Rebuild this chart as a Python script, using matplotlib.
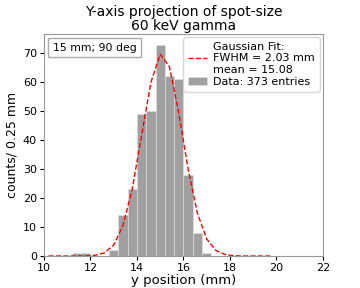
import numpy as np
import matplotlib
matplotlib.use('Agg')
import matplotlib.pyplot as plt
from matplotlib.offsetbox import AnchoredText

# histogram bins (mm) and counts per bin
bin_edges = np.linspace(10, 20, 26)
counts = [0, 0, 0, 1, 1, 0, 0, 2, 14, 23, 49, 50, 73,
          62, 61, 28, 8, 1, 0, 0, 0, 0, 0, 0, 0]

# gaussian fit evaluated at bin centres
fit_x = [10.2, 10.6, 11.0, 11.4, 11.8, 12.2, 12.6, 13.0, 13.4, 13.8, 14.2, 14.6, 15.0,
         15.4, 15.8, 16.2, 16.6, 17.0, 17.4, 17.8, 18.2, 18.6, 19.0, 19.4, 19.8]
fit_y = [0, 0, 0, 0, 0.02, 0.26, 1.1, 3.8, 10.5, 23.2, 41.6, 59.9, 69.7,
         65.3, 49.4, 30.1, 14.8, 5.9, 1.9, 0.48, 0.1, 0, 0, 0, 0]

fit_label = 'Gaussian Fit:\nFWHM = 2.03 mm\nmean = 15.08'
data_label = 'Data: 373 entries'

fig = plt.figure(figsize=(3.6, 2.88), dpi=100)
ax = fig.add_axes([0.122, 0.111, 0.775, 0.771])

widths = np.diff(bin_edges)
ax.plot(fit_x, fit_y, 'r--', linewidth=1, label=fit_label, zorder=3)
ax.bar(bin_edges[:-1], counts, width=widths, align='edge', color='#a0a0a0',
       edgecolor='#e0e0e0', linewidth=0.4, label=data_label)

ax.set_xlim(10, 22)
ax.set_xticks([10, 12, 14, 16, 18, 20, 22])
ax.set_yticks(range(0, 80, 10))
ax.tick_params(labelsize=8, pad=2, length=3)
for s in ax.spines.values():
    s.set_color('#999999')

ax.set_xlabel('y position (mm)', fontsize=9.5, labelpad=1)
ax.set_ylabel('counts/ 0.25 mm', fontsize=9, labelpad=3)
ax.set_title('Y-axis projection of spot-size\n60 keV gamma', fontsize=10,
             linespacing=1.0, pad=3)

ax.legend(loc='upper right', fontsize=8, handlelength=1.7,
          borderaxespad=0.3, labelspacing=0.2, handletextpad=0.6)

at = AnchoredText('15 mm; 90 deg', loc='upper left', prop=dict(size=7.8),
                  borderpad=0.4)
at.patch.set_edgecolor('#aaaaaa')
ax.add_artist(at)

fig.savefig('out.png', dpi=100)
